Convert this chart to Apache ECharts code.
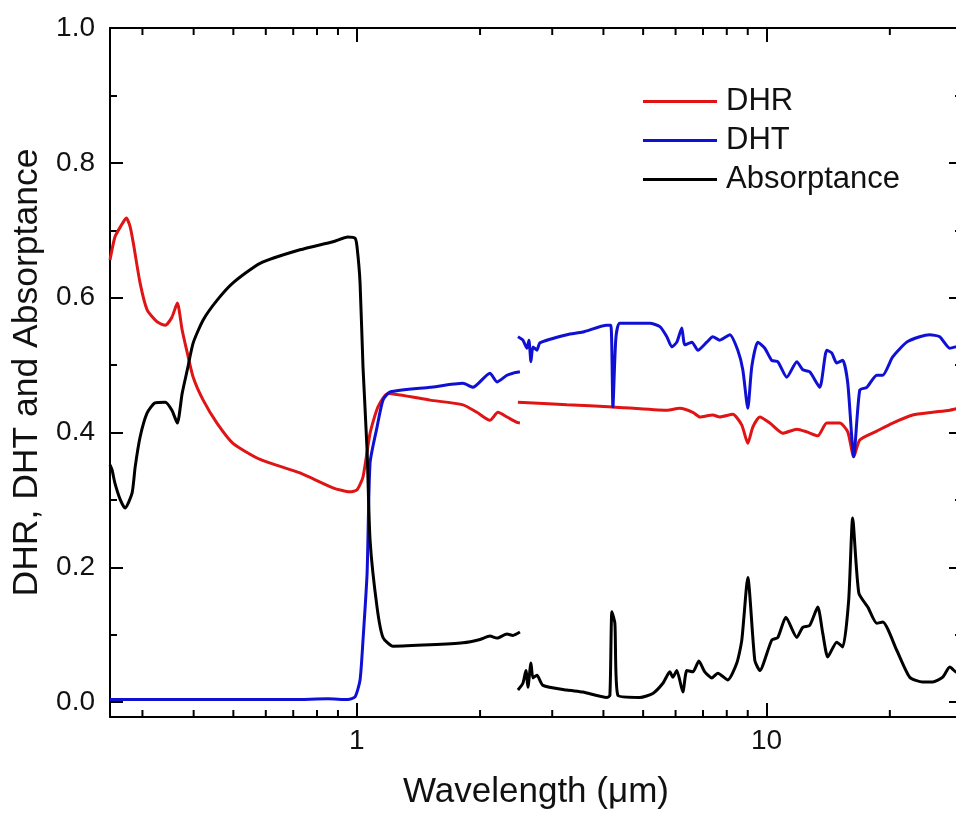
<!DOCTYPE html>
<html>
<head>
<meta charset="utf-8">
<script src="https://cdn.jsdelivr.net/npm/echarts@6/dist/echarts.min.js"></script>
<style>
  html, body { margin: 0; padding: 0; background: #ffffff; overflow: hidden; }
  #chart { width: 972px; height: 816px; }
</style>
</head>
<body>
<div id="chart"></div>
<script>
// Spectral response of the film: wavelength in µm, value as a fraction.
// Each quantity has a UV-Vis-NIR segment (to 2.5 µm) and an FTIR segment (from 2.5 µm).
// The frame runs out to 30 µm, a few pixels past the right edge of the page.

const dhrVis = [
  [0.250, 0.656], [0.257, 0.690], [0.265, 0.705], [0.274, 0.718], [0.280, 0.705],
  [0.285, 0.681], [0.296, 0.622], [0.308, 0.582], [0.326, 0.564], [0.341, 0.559],
  [0.354, 0.571], [0.365, 0.592], [0.375, 0.552], [0.386, 0.518], [0.399, 0.482],
  [0.422, 0.448], [0.456, 0.414], [0.499, 0.384], [0.581, 0.360], [0.727, 0.340],
  [0.875, 0.318], [0.963, 0.312], [1.002, 0.315], [1.036, 0.334], [1.078, 0.399],
  [1.127, 0.438], [1.192, 0.458], [1.510, 0.448], [1.816, 0.441], [1.965, 0.430],
  [2.114, 0.418], [2.211, 0.430], [2.326, 0.423], [2.460, 0.415], [2.502, 0.414]
];
const dhrIR = [
  [2.474, 0.445], [3.258, 0.441], [4.219, 0.438], [5.713, 0.433], [6.144, 0.436],
  [6.612, 0.430], [6.878, 0.423], [7.396, 0.426], [7.693, 0.423], [8.276, 0.427],
  [8.705, 0.411], [9.004, 0.384], [9.260, 0.408], [9.631, 0.423], [10.19, 0.414],
  [10.96, 0.399], [11.86, 0.405], [12.54, 0.401], [13.34, 0.395], [14.03, 0.414],
  [15.10, 0.414], [15.79, 0.401], [16.33, 0.364], [16.89, 0.389], [18.58, 0.402],
  [20.32, 0.414], [22.74, 0.426], [25.44, 0.430], [28.00, 0.433], [30.00, 0.437]
];

const dhtVis = [
  [0.250, 0.004], [0.300, 0.004], [0.400, 0.004], [0.500, 0.004], [0.700, 0.004],
  [0.850, 0.005], [0.952, 0.004], [0.991, 0.008], [1.019, 0.033], [1.036, 0.092],
  [1.060, 0.191], [1.078, 0.355], [1.121, 0.408], [1.159, 0.448], [1.206, 0.460],
  [1.510, 0.467], [1.816, 0.473], [1.921, 0.467], [2.114, 0.488], [2.199, 0.475],
  [2.326, 0.485], [2.406, 0.488], [2.502, 0.490]
];
const dhtIR = [
  [2.474, 0.542], [2.544, 0.537], [2.603, 0.525], [2.632, 0.537], [2.662, 0.505],
  [2.692, 0.527], [2.753, 0.522], [2.800, 0.533], [3.258, 0.545], [3.565, 0.549],
  [4.078, 0.559], [4.171, 0.559], [4.219, 0.438], [4.290, 0.540], [4.387, 0.562],
  [5.193, 0.562], [5.493, 0.557], [5.713, 0.542], [5.875, 0.527], [6.042, 0.534],
  [6.213, 0.555], [6.320, 0.530], [6.575, 0.534], [6.800, 0.522], [7.150, 0.534],
  [7.396, 0.542], [7.693, 0.537], [8.137, 0.545], [8.511, 0.522], [8.754, 0.493],
  [9.004, 0.436], [9.208, 0.498], [9.524, 0.534], [9.906, 0.525], [10.30, 0.507],
  [10.66, 0.505], [11.21, 0.482], [11.86, 0.505], [12.26, 0.493], [12.75, 0.490],
  [13.49, 0.467], [14.03, 0.522], [14.43, 0.518], [14.84, 0.503], [15.35, 0.507],
  [15.79, 0.473], [16.33, 0.364], [16.89, 0.463], [17.57, 0.467], [18.58, 0.485],
  [19.22, 0.485], [20.32, 0.512], [21.99, 0.534], [23.66, 0.542], [25.02, 0.545],
  [26.47, 0.542], [28.00, 0.525], [28.95, 0.527], [30.00, 0.530]
];

const absVis = [
  [0.250, 0.352], [0.253, 0.344], [0.257, 0.325], [0.265, 0.300], [0.272, 0.288],
  [0.283, 0.310], [0.288, 0.349], [0.296, 0.393], [0.308, 0.429], [0.322, 0.444],
  [0.341, 0.445], [0.354, 0.433], [0.365, 0.414], [0.375, 0.458], [0.386, 0.493],
  [0.399, 0.533], [0.422, 0.567], [0.456, 0.596], [0.499, 0.622], [0.581, 0.651],
  [0.727, 0.671], [0.875, 0.683], [0.952, 0.690], [0.991, 0.688], [1.002, 0.675],
  [1.019, 0.622], [1.036, 0.497], [1.060, 0.374], [1.078, 0.240], [1.121, 0.141],
  [1.159, 0.096], [1.226, 0.083], [1.510, 0.085], [1.816, 0.088], [2.000, 0.093],
  [2.114, 0.098], [2.199, 0.095], [2.326, 0.101], [2.406, 0.099], [2.502, 0.104]
];
const absIR = [
  [2.474, 0.018], [2.544, 0.028], [2.588, 0.047], [2.617, 0.022], [2.662, 0.058],
  [2.692, 0.036], [2.753, 0.040], [2.847, 0.025], [3.258, 0.018], [3.565, 0.015],
  [4.078, 0.007], [4.148, 0.010], [4.195, 0.134], [4.266, 0.117], [4.339, 0.010],
  [4.909, 0.007], [5.281, 0.013], [5.587, 0.028], [5.810, 0.045], [5.909, 0.037],
  [6.042, 0.047], [6.250, 0.015], [6.392, 0.047], [6.612, 0.045], [6.839, 0.061],
  [7.070, 0.045], [7.354, 0.036], [7.606, 0.043], [8.045, 0.033], [8.464, 0.058],
  [8.705, 0.092], [9.004, 0.185], [9.365, 0.062], [9.631, 0.047], [10.30, 0.092],
  [10.66, 0.096], [11.15, 0.126], [11.86, 0.096], [12.26, 0.111], [12.75, 0.114],
  [13.34, 0.141], [13.72, 0.102], [14.11, 0.067], [14.84, 0.089], [15.35, 0.082],
  [15.87, 0.151], [16.23, 0.273], [16.80, 0.162], [17.67, 0.141], [18.58, 0.117],
  [19.22, 0.119], [20.79, 0.077], [22.36, 0.037], [24.06, 0.030], [25.44, 0.030],
  [26.92, 0.037], [28.00, 0.052], [28.95, 0.045], [30.00, 0.040]
];

const seriesNames = ['DHR', 'DHT', 'Absorptance'];
const seriesColors = ['#e01414', '#1010d4', '#000000'];

const yMajorTicks = [0, 0.2, 0.4, 0.6, 0.8, 1.0];
const yMinorTicks = [0.1, 0.3, 0.5, 0.7, 0.9];
const xMinorTicks = [0.3, 0.4, 0.5, 0.6, 0.7, 0.8, 0.9, 2, 3, 4, 5, 6, 7, 8, 9, 20];

const X_MIN = 0.25, X_MAX = 30;
const Y_MIN = -0.022, Y_MAX = 1.0;

const FONT = '"Liberation Sans", Arial, Helvetica, sans-serif';
const INK = '#111111';

// join the two instrument segments with a gap between them
function joinSegments(a, b) {
  return a.concat([[2.49, null]], b);
}

const chart = echarts.init(document.getElementById('chart'), null, { renderer: 'canvas' });

const axisLineStyle = { color: '#000', width: 2 };

function xAxisDef(pos, withLabels) {
  return {
    type: 'log',
    logBase: 10,
    min: X_MIN,
    max: X_MAX,
    position: pos,
    axisLine: { show: true, onZero: false, lineStyle: axisLineStyle },
    axisTick: { show: true, inside: true, length: 14, lineStyle: { color: '#000', width: 2 } },
    minorTick: { show: false },
    splitLine: { show: false },
    axisLabel: withLabels ? {
      show: true, fontSize: 28, color: INK, fontFamily: FONT, margin: 10,
      showMinLabel: false, showMaxLabel: false,
      formatter: v => String(Math.round(v))
    } : { show: false }
  };
}

function yAxisDef(pos, ticks, len, withLine, withLabels) {
  return {
    type: 'value',
    min: Y_MIN,
    max: Y_MAX,
    position: pos,
    axisLine: { show: withLine, onZero: false, lineStyle: axisLineStyle },
    axisTick: { show: true, inside: true, length: len, customValues: ticks,
                lineStyle: { color: '#000', width: 2 } },
    splitLine: { show: false },
    axisLabel: withLabels ? {
      show: true, customValues: ticks, fontSize: 28, color: INK, fontFamily: FONT,
      margin: 15, formatter: v => v.toFixed(1)
    } : { show: false }
  };
}

const xBottom = xAxisDef('bottom', true);
xBottom.name = 'Wavelength (μm)';
xBottom.nameLocation = 'middle';
xBottom.nameGap = 58;
xBottom.nameTextStyle = { fontSize: 35, color: INK, fontFamily: FONT };

const yLeft = yAxisDef('left', yMajorTicks, 13, true, true);
yLeft.name = 'DHR, DHT and Absorptance';
yLeft.nameLocation = 'middle';
yLeft.nameGap = 60;
yLeft.nameRotate = 90;
yLeft.nameTextStyle = { fontSize: 35.5, color: INK, fontFamily: FONT };

const segments = [
  joinSegments(dhrVis, dhrIR),
  joinSegments(dhtVis, dhtIR),
  joinSegments(absVis, absIR)
];

chart.setOption({
  animation: false,
  backgroundColor: '#ffffff',
  grid: { left: 110, top: 28, width: 852, height: 689, containLabel: false },
  legend: {
    orient: 'vertical',
    left: 643,
    top: 86,
    padding: 0,
    itemWidth: 74,
    itemHeight: 3,
    itemGap: 8,
    icon: 'rect',
    data: seriesNames,
    textStyle: { fontSize: 31, color: INK, fontFamily: FONT, lineHeight: 30, padding: [0, 0, 0, 4] }
  },
  xAxis: [xBottom, xAxisDef('top', false)],
  yAxis: [
    yLeft,
    yAxisDef('left', yMinorTicks, 7, false, false),
    yAxisDef('right', yMajorTicks, 13, true, false),
    yAxisDef('right', yMinorTicks, 7, false, false)
  ],
  series: seriesNames.map((name, i) => ({
    name: name,
    type: 'line',
    xAxisIndex: 0,
    yAxisIndex: 0,
    data: segments[i],
    symbol: 'none',
    showSymbol: false,
    connectNulls: false,
    smooth: 0.2,
    lineStyle: { color: seriesColors[i], width: 3 },
    itemStyle: { color: seriesColors[i] },
    emphasis: { disabled: true }
  }))
});

// minor ticks of the logarithmic wavelength axis (2..9 of each decade), bottom and top
const yBottomPx = chart.convertToPixel({ yAxisIndex: 0 }, Y_MIN);
const yTopPx = chart.convertToPixel({ yAxisIndex: 0 }, Y_MAX);
const tickGraphics = [];
xMinorTicks.forEach(w => {
  const x = chart.convertToPixel({ xAxisIndex: 0 }, w);
  tickGraphics.push({
    type: 'line', silent: true,
    shape: { x1: x, y1: yBottomPx, x2: x, y2: yBottomPx - 7 },
    style: { stroke: '#000', lineWidth: 2 }
  });
  tickGraphics.push({
    type: 'line', silent: true,
    shape: { x1: x, y1: yTopPx, x2: x, y2: yTopPx + 7 },
    style: { stroke: '#000', lineWidth: 2 }
  });
});
chart.setOption({ graphic: tickGraphics });
</script>
</body>
</html>
